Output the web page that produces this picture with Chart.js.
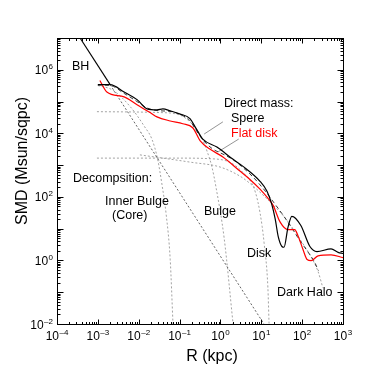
<!DOCTYPE html>
<html>
<head>
<meta charset="utf-8">
<script src="https://cdn.jsdelivr.net/npm/chart.js@4.4.0/dist/chart.umd.min.js"></script>
<style>
html,body{margin:0;padding:0;background:#fff;}
#wrap{width:382px;height:376px;position:relative;}
</style>
</head>
<body>
<div id="wrap"><canvas id="c"></canvas></div>
<script>
// ---- data (R in kpc, SMD in Msun/pc^2) ----
const sphereR = [1.0e-3, 2.0e-3, 4.4e-3, 9.1e-3, 1.6e-2, 2.8e-2, 3.9e-2, 5.9e-2, 0.10, 0.18, 0.24, 0.37, 0.82, 2.0, 3.5, 9.3, 13.8, 18, 22, 26, 32, 36, 45, 56, 93, 155, 230, 510, 760, 1000];
const sphereS = [3.4e5, 3.4e5, 2.0e5, 1.15e5, 5.9e4, 5.5e4, 5.9e4, 5.1e4, 4.1e4, 2.9e4, 1.6e4, 6.6e3, 3.7e3, 1.55e3, 930, 310, 150, 59, 19.5, 5.6, 2.75, 2.6, 11, 24.5, 12.6, 2.75, 1.9, 2.3, 1.8, 1.65];

const flatR = [1.12e-3, 1.66e-3, 4.4e-3, 9.1e-3, 1.9e-2, 2.8e-2, 5.9e-2, 0.12, 0.21, 0.32, 0.55, 1.15, 3.0, 5.2, 9.3, 14.5, 19.5, 29, 45, 66, 79, 105, 132, 166, 245, 510, 1000];
const flatS = [4.6e5, 2.0e5, 1.4e5, 7.9e4, 4.5e4, 3.3e4, 2.45e4, 2.0e4, 1.5e4, 5.8e3, 3.2e3, 1.8e3, 650, 360, 175, 91, 54, 16, 9.3, 9.3, 6.0, 2.2, 1.07, 0.98, 1.4, 1.5, 1.23];

const modelR = [1.0e-3, 2.0e-3, 4.4e-3, 9.1e-3, 1.6e-2, 2.8e-2, 5.9e-2, 0.10, 0.18, 0.24, 0.37, 0.63, 1.26, 2.0, 3.5, 6.3, 9.3, 13.8, 20, 32, 50, 79, 126, 200, 250];
const modelS = [3.3e5, 3.2e5, 1.8e5, 1.0e5, 6.3e4, 5.2e4, 4.9e4, 4.0e4, 2.5e4, 1.4e4, 6.3e3, 3.3e3, 2.1e3, 1.5e3, 850, 420, 240, 130, 68, 30, 13, 5.2, 2.2, 0.9, 0.48];

const bhSolidR = [3.47e-4, 2.0e-3];
const bhSolidS = [1.12e7, 3.4e5];
const bhR = [2.0e-3, 12];
const bhS = [3.4e5, 0.0094];

const innerBulgeR = [1.0e-3, 2.3e-3, 6.2e-3, 1.4e-2, 2.1e-2, 2.9e-2, 3.7e-2, 4.7e-2, 5.9e-2, 6.9e-2];
const innerBulgeS = [3.2e5, 2.3e5, 6.9e4, 1.6e4, 6.6e3, 1.55e3, 250, 28, 1.07, 0.01];

const bulgeR = [9.5e-4, 0.033, 0.10, 0.20, 0.32, 0.47, 0.62, 0.78, 1.23, 2.04];
const bulgeS = [4.8e4, 4.5e4, 3.8e4, 2.0e4, 8.9e3, 2.75e3, 870, 200, 5.2, 0.01];

const diskR = [9.5e-4, 0.1, 0.5, 1.7, 3.5, 6.3, 8.3, 10.5, 11.7, 14.5, 15.5];
const diskS = [1.66e3, 1.66e3, 1.6e3, 1.23e3, 600, 220, 68, 11.7, 3.6, 0.14, 0.01];

const haloR = [1.07e-2, 0.19, 0.98, 3.0, 5.2, 9.3, 16, 38, 89, 155, 245, 320];
const haloS = [2.1e3, 1.23e3, 870, 450, 270, 140, 72, 22, 4.6, 1.5, 0.45, 0.14];

const leaderSphereR = [1.15, 0.40];
const leaderSphereS = [2.3e4, 9.5e3];
const leaderFlatR = [2.8, 0.87];
const leaderFlatS = [6.6e3, 2.6e3];

const xTickExps = [-4, -3, -2, -1, 0, 1, 2, 3];
const yTickExps = [-2, 0, 2, 4, 6];
const xRange = [1e-4, 1e3];
const yRange = [1e-2, 1e7];

// ---- build ----
function pts(R, S){ return R.map((r,i)=>({x:r, y:S[i]})); }

function ds(R, S, color, width, dash, order){
  return {data: pts(R,S), borderColor: color, borderWidth: width, borderDash: dash,
          showLine: true, pointRadius: 0, fill: false, cubicInterpolationMode: 'monotone'};
}

const datasets = [
  ds(sphereR, sphereS, '#000', 1.2, []),
  ds(flatR, flatS, '#ff0000', 1.2, []),
  ds(bhSolidR, bhSolidS, '#000', 1.1, []),
  ds(modelR, modelS, '#222', 0.9, [4,3]),
  ds(bhR, bhS, '#555', 0.9, [2,2]),
  ds(innerBulgeR, innerBulgeS, '#999', 0.9, [2,2]),
  ds(bulgeR, bulgeS, '#999', 0.9, [2,2]),
  ds(diskR, diskS, '#999', 0.9, [2,2]),
  ds(haloR, haloS, '#999', 0.9, [2,2]),
  ds(leaderSphereR, leaderSphereS, '#888', 0.9, []),
  ds(leaderFlatR, leaderFlatS, '#888', 0.9, []),
];

const labels = [
  {t:'BH', x:72, y:70, c:'#000'},
  {t:'Direct mass:', x:224, y:107, c:'#000'},
  {t:'Spere', x:231, y:122, c:'#000'},
  {t:'Flat disk', x:231, y:137, c:'#ff0000'},
  {t:'Decompsition:', x:73, y:182, c:'#000'},
  {t:'Inner Bulge', x:105, y:205, c:'#000'},
  {t:'(Core)', x:112, y:219, c:'#000'},
  {t:'Bulge', x:204, y:215, c:'#000'},
  {t:'Disk', x:247, y:257, c:'#000'},
  {t:'Dark Halo', x:277, y:296, c:'#000'},
];

const FONT = '"Liberation Sans", Arial, sans-serif';

function powWidth(ctx, e){
  ctx.font = '12px ' + FONT; const w1 = ctx.measureText('10').width;
  ctx.font = '8px ' + FONT; const w2 = ctx.measureText(String(e).replace('-', '\u2013')).width;
  return [w1, w2];
}
function drawPow(ctx, e, left, base){
  const [w1] = powWidth(ctx, e);
  ctx.textAlign = 'left'; ctx.textBaseline = 'alphabetic';
  ctx.font = '12px ' + FONT; ctx.fillText('10', left, base);
  ctx.font = '8px ' + FONT; ctx.fillText(String(e).replace('-', '\u2013'), left + w1 + 0.5, base - 5);
}

const decor = {
  id: 'decor',
  afterDraw(chart){
    const {ctx, chartArea:a, scales:{x, y}} = chart;
    ctx.save();
    ctx.strokeStyle = '#000'; ctx.lineWidth = 1;
    const L = Math.round(a.left)+0.5, R = Math.round(a.right)+0.5, T = Math.round(a.top)+0.5, B = Math.round(a.bottom)+0.5;
    ctx.strokeRect(L, T, R-L, B-T);
    ctx.beginPath();
    // x ticks
    for (let e = -4; e <= 3; e++){
      for (let m = 1; m <= 9; m++){
        const v = m * Math.pow(10, e);
        if (v > xRange[1]*1.0001) break;
        const px = Math.round(x.getPixelForValue(v)) + 0.5;
        const len = m === 1 ? 5 : 2.5;
        ctx.moveTo(px, B); ctx.lineTo(px, B - len);
        ctx.moveTo(px, T); ctx.lineTo(px, T + len);
      }
    }
    // y ticks
    for (let e = -2; e <= 7; e++){
      for (let m = 1; m <= 9; m++){
        const v = m * Math.pow(10, e);
        if (v > yRange[1]*1.0001) break;
        const py = Math.round(y.getPixelForValue(v)) + 0.5;
        const len = m === 1 ? 6 : 3;
        ctx.moveTo(L, py); ctx.lineTo(L + len, py);
        ctx.moveTo(R, py); ctx.lineTo(R - len, py);
      }
    }
    ctx.stroke();
    ctx.fillStyle = '#000';
    // x tick labels
    xTickExps.forEach(e => {
      const px = x.getPixelForValue(Math.pow(10, e));
      const [w1, w2] = powWidth(ctx, e);
      drawPow(ctx, e, px - (w1 + w2 + 0.5)/2, 340);
    });
    // y tick labels
    yTickExps.forEach(e => {
      const py = y.getPixelForValue(Math.pow(10, e));
      const [w1, w2] = powWidth(ctx, e);
      drawPow(ctx, e, 53 - (w1 + w2 + 0.5), py + 4.5);
    });
    // annotations
    ctx.font = '12.5px ' + FONT; ctx.textAlign = 'left'; ctx.textBaseline = 'alphabetic';
    labels.forEach(l => { ctx.fillStyle = l.c; ctx.fillText(l.t, l.x, l.y); });
    // axis titles
    ctx.fillStyle = '#000';
    ctx.font = '16px ' + FONT; ctx.textAlign = 'center';
    ctx.fillText('R (kpc)', 212, 361);
    ctx.save();
    ctx.translate(27, 161); ctx.rotate(-Math.PI/2);
    ctx.fillText('SMD (Msun/sqpc)', 0, 0);
    ctx.restore();
    ctx.restore();
  }
};

new Chart(document.getElementById('c'), {
  type: 'scatter',
  data: {datasets},
  options: {
    responsive: true, maintainAspectRatio: false, animation: false,
    layout: {padding: {left: 57, top: 38, right: 39, bottom: 52}},
    plugins: {legend: {display: false}, tooltip: {enabled: false}},
    elements: {line: {tension: 0.4}},
    scales: {
      x: {type: 'logarithmic', min: xRange[0], max: xRange[1], display: false},
      y: {type: 'logarithmic', min: yRange[0], max: yRange[1], display: false}
    }
  },
  plugins: [decor]
});
</script>
</body>
</html>
